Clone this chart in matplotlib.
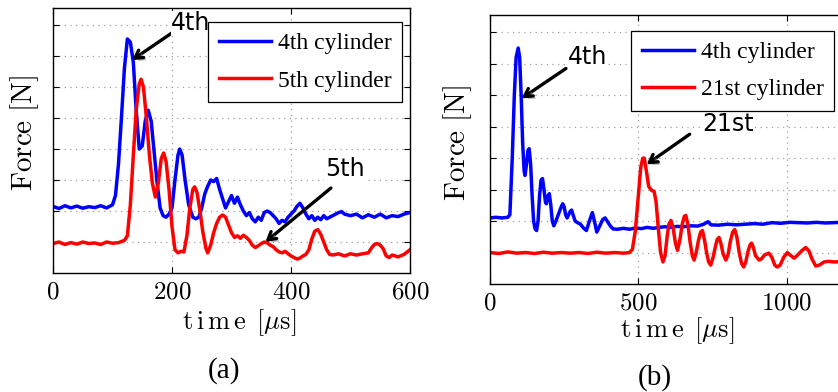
import matplotlib
matplotlib.use('Agg')
import matplotlib.pyplot as plt
import matplotlib.patheffects as pe

plt.rcParams['font.family'] = 'cmr10'
plt.rcParams['mathtext.fontset'] = 'cm'
plt.rcParams['axes.formatter.use_mathtext'] = True

# (a) 4th and 5th cylinder
t_a4 = [0, 10, 20, 30, 40, 50, 60, 70, 80, 90, 100, 105, 110, 115, 120, 125, 130, 135,
        140, 145, 150, 155, 160, 165, 170, 175, 180, 185, 190, 195, 200, 205, 210, 213,
        217, 222, 228, 235, 240, 245, 250, 255, 260, 265, 270, 275, 280, 285, 290, 295,
        300, 305, 310, 315, 320, 325, 330, 335, 340, 345, 350, 355, 360, 365, 370, 375,
        380, 385, 390, 395, 400, 405, 410, 415, 420, 425, 430, 435, 440, 445, 450, 455,
        460, 470, 480, 485, 490, 500, 510, 520, 530, 540, 550, 560, 570, 580, 590, 600]
f_a4 = [2.15, 2.08, 2.17, 2.10, 2.16, 2.09, 2.14, 2.11, 2.17, 2.10, 2.20, 2.5, 3.5, 5.0,
        6.6, 7.55, 7.45, 6.8, 5.2, 4.0, 4.1, 4.9, 5.25, 4.9, 3.9, 2.9, 2.1, 1.85, 1.8,
        1.9, 2.1, 3.0, 3.8, 4.0, 3.8, 3.0, 2.2, 1.8, 1.75, 1.8, 2.1, 2.55, 2.8, 3.0,
        2.95, 3.05, 2.7, 2.4, 2.1, 2.3, 2.5, 2.25, 2.45, 2.2, 2.0, 1.85, 1.95, 1.75,
        1.65, 1.8, 1.7, 1.95, 2.0, 1.95, 1.85, 1.75, 1.6, 1.7, 1.65, 1.8, 1.9, 2.0,
        2.15, 2.25, 2.1, 1.9, 1.75, 1.85, 1.7, 1.8, 1.72, 1.85, 1.75, 1.85, 1.95, 1.98,
        1.9, 1.85, 1.9, 1.78, 1.88, 1.8, 1.9, 1.78, 1.85, 1.82, 1.9, 1.95]

t_a5 = [0, 10, 20, 30, 40, 50, 60, 70, 80, 90, 100, 110, 120, 125, 130, 135, 140, 145,
        148, 152, 157, 162, 167, 172, 177, 182, 186, 190, 195, 200, 205, 210, 215, 220,
        225, 230, 235, 238, 242, 247, 252, 257, 260, 265, 270, 275, 280, 285, 290, 295,
        300, 305, 310, 315, 320, 325, 330, 335, 340, 345, 350, 355, 360, 365, 370, 375,
        380, 385, 390, 395, 400, 405, 410, 415, 420, 425, 430, 435, 440, 445, 450, 455,
        460, 465, 470, 480, 490, 500, 510, 520, 530, 535, 540, 545, 550, 555, 560, 565,
        570, 580, 590, 600]
f_a5 = [0.95, 1.0, 0.92, 0.98, 0.93, 1.0, 0.95, 0.97, 0.92, 1.0, 0.96, 0.98, 1.05, 1.2,
        2.2, 3.8, 5.3, 6.1, 6.25, 6.0, 5.0, 3.8, 2.9, 2.45, 2.9, 3.7, 3.87, 3.6, 2.7,
        1.5, 0.75, 0.65, 0.7, 0.68, 1.2, 2.1, 2.7, 2.78, 2.6, 2.0, 1.3, 0.8, 0.65, 0.9,
        1.3, 1.6, 1.8, 1.87, 1.8, 1.55, 1.3, 1.15, 1.2, 1.12, 1.22, 1.15, 1.05, 0.9,
        0.82, 0.88, 0.95, 1.0, 0.97, 0.9, 0.85, 0.75, 0.68, 0.65, 0.7, 0.62, 0.55, 0.5,
        0.45, 0.48, 0.55, 0.6, 0.75, 1.1, 1.35, 1.4, 1.25, 1.0, 0.75, 0.6, 0.58, 0.62,
        0.55, 0.62, 0.58, 0.62, 0.65, 0.8, 0.92, 0.95, 0.9, 0.78, 0.55, 0.5, 0.58, 0.52,
        0.6, 0.75]

# (b) 4th and 21st cylinder
t_b4 = [0, 20, 40, 60, 67, 75, 82, 88, 95, 100, 105, 110, 115, 118, 123, 128, 132, 137,
        142, 147, 152, 157, 162, 167, 172, 177, 182, 187, 190, 195, 200, 205, 210, 215,
        220, 230, 240, 245, 250, 255, 260, 265, 270, 275, 280, 287, 295, 305, 315, 325,
        335, 345, 352, 360, 370, 380, 388, 395, 405, 415, 430, 450, 470, 490, 510, 530,
        550, 570, 590, 610, 630, 650, 680, 700, 720, 735, 745, 770, 800, 830, 860, 890,
        920, 950, 980, 1010, 1040, 1070, 1100, 1130, 1160, 1200]
f_b4 = [2.1, 2.12, 2.1, 2.12, 2.2, 4.0, 6.0, 7.2, 7.5, 7.2, 6.0, 4.5, 3.6, 3.45, 3.8,
        4.25, 4.3, 3.8, 2.8, 2.0, 1.75, 1.7, 2.0, 2.8, 3.3, 3.35, 3.0, 2.6, 2.55, 2.8,
        2.87, 2.5, 2.0, 1.85, 1.95, 2.2, 2.45, 2.55, 2.45, 2.2, 2.1, 2.2, 2.3, 2.35, 2.2,
        2.0, 1.95, 1.9, 1.78, 1.7, 2.0, 2.27, 2.0, 1.65, 1.85, 2.05, 2.1, 2.0, 1.85,
        1.75, 1.74, 1.77, 1.74, 1.78, 1.76, 1.8, 1.77, 1.8, 1.82, 1.8, 1.83, 1.82, 1.85,
        1.84, 1.9, 1.98, 1.88, 1.87, 1.9, 1.88, 1.9, 1.92, 1.9, 1.95, 1.93, 1.96, 1.95,
        1.94, 1.96, 1.94, 1.95, 1.97]

t_b21 = [0, 30, 60, 90, 120, 150, 180, 210, 240, 270, 300, 330, 360, 390, 420, 450, 470,
         480, 490, 500, 508, 515, 520, 527, 535, 545, 553, 560, 567, 575, 583, 590, 597,
         603, 610, 617, 625, 632, 640, 648, 655, 660, 667, 675, 682, 688, 695, 703, 710,
         716, 723, 730, 737, 744, 752, 760, 766, 772, 778, 786, 795, 803, 810, 818, 825,
         832, 840, 848, 855, 862, 870, 877, 882, 888, 895, 907, 915, 925, 940, 950, 960,
         968, 978, 990, 1002, 1012, 1025, 1035, 1050, 1064, 1075, 1085, 1098, 1110, 1126,
         1140, 1160, 1200]
f_b21 = [1.0, 0.97, 1.02, 0.98, 1.0, 0.97, 1.01, 0.98, 1.0, 0.98, 1.0, 0.97, 1.01, 0.98,
         1.0, 0.98, 1.0, 1.1, 1.7, 2.8, 3.7, 4.0, 4.0, 3.6, 3.1, 2.97, 2.95, 2.6, 1.8,
         1.0, 0.7, 0.9, 1.5, 1.9, 2.02, 1.8, 1.3, 1.07, 1.4, 1.9, 2.15, 2.18, 1.9, 1.3,
         0.9, 0.76, 1.0, 1.4, 1.65, 1.7, 1.4, 1.0, 0.7, 0.6, 0.85, 1.2, 1.42, 1.48, 1.3,
         0.95, 0.76, 0.95, 1.35, 1.65, 1.73, 1.5, 1.0, 0.65, 0.54, 0.7, 1.05, 1.25, 1.3,
         1.15, 0.9, 0.76, 0.8, 0.92, 0.98, 0.85, 0.6, 0.54, 0.6, 0.85, 1.0, 0.92, 0.82,
         0.9, 1.05, 1.16, 1.05, 0.8, 0.57, 0.6, 0.7, 0.72, 0.7, 0.72]

W, H = 838, 392
fig = plt.figure(figsize=(W / 100, H / 100), dpi=100)


def px_axes(x0, y_top, x1, y_bot):
    return fig.add_axes([x0 / W, 1 - y_bot / H, (x1 - x0) / W, (y_bot - y_top) / H])


def style(ax, xlim, xticks):
    ax.set_xlim(*xlim)
    ax.set_ylim(0, 8.55)
    ax.set_xticks(xticks)
    ax.set_xticklabels([r'$%d$' % v for v in xticks])
    ax.set_yticks(range(1, 9))
    ax.set_yticklabels([])
    ax.grid(True, linestyle=(0, (1, 3.5)), color='#a0a0a0', linewidth=0.9)
    ax.tick_params(direction='in', length=4, width=0.8, top=True, right=True,
                   labelsize=18, pad=6)
    for s in ax.spines.values():
        s.set_linewidth(1.0)


shadow = [pe.withSimplePatchShadow(offset=(2, -2), shadow_rgbFace='gray', alpha=0.5)]


def arrow(ax, tail, head, label, pos):
    ax.annotate('', xy=head, xytext=tail,
                arrowprops=dict(arrowstyle='->,head_length=0.55,head_width=0.32', color='k',
                                lw=2.4, shrinkA=0, shrinkB=0, path_effects=shadow))
    ax.text(pos[0], pos[1], label, fontsize=17, family='DejaVu Sans',
            ha='center', va='center', zorder=5,
            bbox=dict(facecolor='white', edgecolor='none', pad=0.5))


def add_legend(ax, x0, y0):
    leg = ax.legend(loc='upper left', bbox_to_anchor=(x0 / W, 1 - y0 / H),
                    bbox_transform=fig.transFigure, borderaxespad=0, fancybox=False,
                    edgecolor='k', framealpha=1,
                    prop={'family': 'Liberation Serif', 'size': 17},
                    handlelength=2.2, handletextpad=0.3, labelspacing=0.67,
                    borderpad=0.45)
    leg.get_frame().set_linewidth(0.9)


# panel (a)
ax1 = px_axes(53, 8, 410, 273)
ax1.plot(t_a4, f_a4, color='#0000ff', lw=2.5, label='4th cylinder')
ax1.plot(t_a5, f_a5, color='#ff0000', lw=2.5, label='5th cylinder')
style(ax1, (0, 600), [0, 200, 400, 600])
arrow(ax1, (207, 7.84), (133, 6.87), '4th', (232, 8.05))
arrow(ax1, (467, 2.74), (357, 1.0), '5th', (490, 3.35))
add_legend(ax1, 208, 22)

# panel (b)
ax2 = px_axes(490, 15, 846, 284)
ax2.plot(t_b4, f_b4, color='#0000ff', lw=2.5, label='4th cylinder')
ax2.plot(t_b21, f_b21, color='#ff0000', lw=2.5, label='21st cylinder')
style(ax2, (0, 1200), [0, 500, 1000])
arrow(ax2, (256, 6.85), (107, 5.9), '4th', (330, 7.2))
arrow(ax2, (673, 4.76), (528, 3.8), '21st', (801, 5.08))
add_legend(ax2, 631, 31)

# axis labels and panel tags
xlab = r'$\mathrm{t\,i\,m\,e}\ \,[\mu\mathrm{s}]$'
ylab = r'$\mathrm{Force}\ [\mathrm{N}]$'
fig.text(239 / W, 1 - 323 / H, xlab, fontsize=19, ha='center', va='center')
fig.text(677 / W, 1 - 331 / H, xlab, fontsize=19, ha='center', va='center')
fig.text(25 / W, 1 - 133 / H, ylab, fontsize=21, ha='center', va='center', rotation=90)
fig.text(458 / W, 1 - 143 / H, ylab, fontsize=21, ha='center', va='center', rotation=90)
fig.text(224 / W, 1 - 371 / H, '(a)', fontsize=21, family='Liberation Serif',
         ha='center', va='center')
fig.text(655 / W, 1 - 378 / H, '(b)', fontsize=21, family='Liberation Serif',
         ha='center', va='center')

fig.savefig('out.png', dpi=100)
